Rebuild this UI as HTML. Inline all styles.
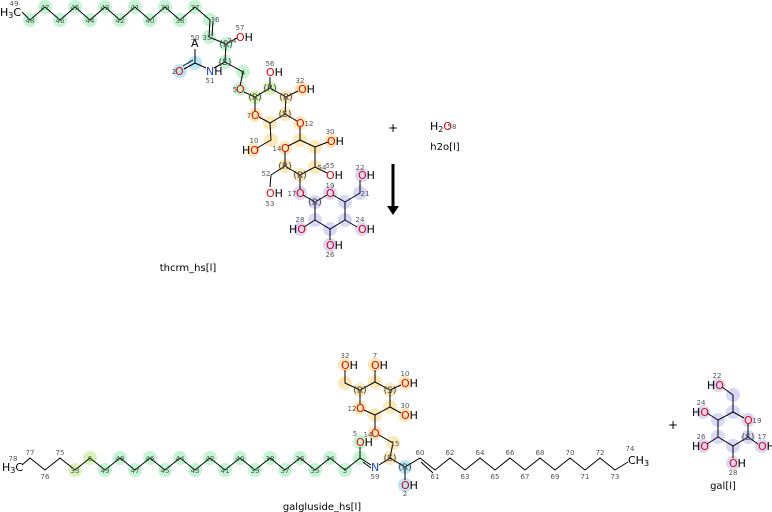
<!DOCTYPE html>
<html><head><meta charset="utf-8"><style>
html,body{margin:0;padding:0;background:#fff;}
svg{display:block;font-family:"DejaVu Sans","Liberation Sans",sans-serif;}
.n{font-size:7px;fill:#555;text-anchor:middle;}
.o{font-size:11px;fill:#e00;}
.k{font-size:11px;fill:#000;}
.s{font-size:9px;fill:#444;text-anchor:middle;}
.l{font-size:10px;fill:#000;text-anchor:middle;}
</style></head><body>
<svg width="772" height="512" viewBox="0 0 772 512" xmlns="http://www.w3.org/2000/svg">
<!-- highlight circles -->
<g fill="#c3f5d3">
<circle cx="30" cy="20" r="7"/><circle cx="45" cy="7" r="7"/><circle cx="60" cy="20" r="7"/><circle cx="75" cy="7" r="7"/><circle cx="90" cy="20" r="7"/><circle cx="105" cy="7" r="7"/><circle cx="120" cy="20" r="7"/><circle cx="135" cy="7" r="7"/><circle cx="150" cy="20" r="7"/><circle cx="165" cy="7" r="7"/><circle cx="180" cy="20" r="7"/><circle cx="195" cy="7" r="7"/><circle cx="210" cy="20" r="7"/><circle cx="209" cy="37" r="7"/><circle cx="226" cy="44" r="7"/><circle cx="225" cy="62" r="7"/><circle cx="243" cy="72" r="7"/><circle cx="240" cy="89" r="7"/>
<circle cx="105" cy="470" r="7"/><circle cx="120" cy="458" r="7"/><circle cx="135" cy="470" r="7"/><circle cx="150" cy="458" r="7"/><circle cx="165" cy="470" r="7"/><circle cx="180" cy="458" r="7"/><circle cx="195" cy="470" r="7"/><circle cx="210" cy="458" r="7"/><circle cx="225" cy="470" r="7"/><circle cx="240" cy="458" r="7"/><circle cx="255" cy="470" r="7"/><circle cx="270" cy="458" r="7"/><circle cx="285" cy="470" r="7"/><circle cx="300" cy="458" r="7"/><circle cx="315" cy="470" r="7"/><circle cx="330" cy="458" r="7"/><circle cx="345" cy="470" r="7"/><circle cx="360" cy="458" r="7"/><circle cx="360" cy="442" r="7"/>
</g>
<g fill="#d8f5b8"><circle cx="255" cy="97" r="7"/><circle cx="270" cy="88" r="7"/><circle cx="75" cy="470" r="7"/><circle cx="90" cy="458" r="7"/></g>
<g fill="#b8e6f8"><circle cx="180" cy="71" r="7"/><circle cx="195" cy="63" r="7"/><circle cx="405" cy="467" r="7"/><circle cx="405" cy="485" r="7"/></g>
<g fill="#fde9b8">
<circle cx="286" cy="97" r="7"/><circle cx="302" cy="89" r="7"/><circle cx="285" cy="114" r="7"/><circle cx="300" cy="123" r="7"/><circle cx="270" cy="123" r="7"/><circle cx="255" cy="115" r="7"/><circle cx="271" cy="140" r="7"/><circle cx="253" cy="150" r="7"/><circle cx="285" cy="148" r="7"/><circle cx="300" cy="140" r="7"/><circle cx="315" cy="147" r="7"/><circle cx="331" cy="141" r="7"/><circle cx="315" cy="167" r="7"/><circle cx="285" cy="166" r="7"/><circle cx="300" cy="175" r="7"/>
<circle cx="390" cy="458" r="7"/><circle cx="393" cy="443" r="7"/><circle cx="375" cy="433" r="7"/><circle cx="375" cy="415" r="7"/><circle cx="360" cy="408" r="7"/><circle cx="360" cy="390" r="7"/><circle cx="375" cy="382" r="7"/><circle cx="390" cy="390" r="7"/><circle cx="390" cy="407" r="7"/><circle cx="405" cy="415" r="7"/><circle cx="405" cy="383" r="7"/><circle cx="375" cy="365" r="7"/><circle cx="345" cy="383" r="7"/><circle cx="345" cy="365" r="7"/>
</g>
<g fill="#d8d8f8">
<circle cx="300" cy="193" r="7"/><circle cx="315" cy="202" r="7"/><circle cx="330" cy="193" r="7"/><circle cx="345" cy="202" r="7"/><circle cx="360" cy="193" r="7"/><circle cx="362" cy="175" r="7"/><circle cx="345" cy="220" r="7"/><circle cx="362" cy="229" r="7"/><circle cx="330" cy="229" r="7"/><circle cx="330" cy="245" r="7"/><circle cx="315" cy="220" r="7"/><circle cx="300" cy="229" r="7"/>
<circle cx="718" cy="385" r="7"/><circle cx="733" cy="395" r="7"/><circle cx="733" cy="412" r="7"/><circle cx="748" cy="420" r="7"/><circle cx="748" cy="437" r="7"/><circle cx="762" cy="446" r="7"/><circle cx="733" cy="446" r="7"/><circle cx="733" cy="463" r="7"/><circle cx="718" cy="437" r="7"/><circle cx="703" cy="446" r="7"/><circle cx="718" cy="420" r="7"/><circle cx="703" cy="412" r="7"/>
</g>
<!-- bonds -->
<g stroke="#000" stroke-width="1" fill="none">
<polyline points="22,12 30,20 45,7 60,20 75,7 90,20 105,7 120,20 135,7 150,20 165,7 180,20 195,7 210,20 209,37 226,44 225,62 243,72 240,86"/>
<line x1="213" y1="22" x2="212" y2="36"/>
<line x1="226" y1="44" x2="237" y2="38"/><line x1="225" y1="62" x2="214" y2="68"/><line x1="206" y1="68" x2="195" y2="63"/>
<line x1="195" y1="63" x2="195" y2="49"/><line x1="195" y1="63" x2="184" y2="69"/><line x1="193" y1="60" x2="183" y2="66"/>
<polyline points="244,92 255,97 270,88 286,97 285,114 270,123 259,117"/><line x1="255" y1="97" x2="255" y2="111"/>
<line x1="270" y1="88" x2="270" y2="77"/><line x1="286" y1="97" x2="298" y2="91"/><line x1="285" y1="114" x2="297" y2="121"/>
<polyline points="270,123 271,140 257,148"/>
<polyline points="300,127 300,140 315,147 315,167 300,175 285,166 285,152"/><line x1="288" y1="146" x2="300" y2="140"/>
<line x1="315" y1="147" x2="328" y2="142"/><line x1="315" y1="167" x2="327" y2="173"/>
<polyline points="285,166 271,175 270,187"/><line x1="300" y1="175" x2="300" y2="189"/><line x1="303" y1="195" x2="315" y2="202"/>
<polyline points="315,202 327,195"/><polyline points="333,195 345,202 345,220 330,229 315,220 315,202"/>
<polyline points="345,202 360,193 360,180"/><line x1="345" y1="220" x2="357" y2="227"/><line x1="330" y1="229" x2="330" y2="240"/><line x1="315" y1="220" x2="304" y2="227"/>
<!-- bottom -->
<polyline points="22,465 30,458 45,470 60,458 75,470 90,458 105,470 120,458 135,470 150,458 165,470 180,458 195,470 210,458 225,470 240,458 255,470 270,458 285,470 300,458 315,470 330,458 345,470 360,458 371,465"/>
<line x1="360" y1="458" x2="360" y2="447"/><line x1="363" y1="462" x2="371" y2="468"/>
<polyline points="379,465 390,458 405,467 420,458 435,470 450,458 465,470 480,458 495,470 510,458 525,470 540,458 555,470 570,458 585,470 600,458 615,470 628,462"/>
<line x1="421" y1="462" x2="433" y2="473"/>
<polyline points="390,458 393,443 379,435"/><line x1="375" y1="429" x2="375" y2="415"/>
<polyline points="375,415 364,410"/><polyline points="360,404 360,390 375,382 390,390 390,407 375,415"/>
<line x1="390" y1="407" x2="401" y2="413"/><line x1="390" y1="390" x2="401" y2="385"/><line x1="375" y1="382" x2="375" y2="370"/><polyline points="360,390 345,383 345,370"/>
<line x1="405" y1="467" x2="405" y2="480"/>
<!-- gal -->
<polyline points="733,412 744,418"/><polyline points="748,424 748,437 733,446 718,437 718,420 733,412"/>
<polyline points="733,412 733,395 722,387"/><line x1="718" y1="420" x2="707" y2="413"/><line x1="718" y1="437" x2="707" y2="444"/><line x1="733" y1="446" x2="733" y2="458"/><line x1="748" y1="437" x2="758" y2="444"/>
</g>
<!-- arrow -->
<line x1="393" y1="164" x2="393" y2="207" stroke="#000" stroke-width="3"/>
<polygon points="387,206 399,206 393,215" fill="#000"/>
<!-- atom labels -->
<g class="k">
<text x="0" y="16">H<tspan font-size="8" dy="2">3</tspan><tspan dy="-2">C</tspan></text>
<text x="2" y="471">H<tspan font-size="8" dy="2">3</tspan><tspan dy="-2">C</tspan></text>
<text x="628" y="464">CH<tspan font-size="8" dy="2">3</tspan></text>
<text x="191" y="47">A</text>
<text x="430" y="130">H<tspan font-size="8" dy="2">2</tspan><tspan dy="-2" fill="#e00">O</tspan></text>
<text x="388" y="132" font-size="12">+</text>
<text x="668" y="429" font-size="12">+</text>
</g>
<text x="206" y="75" font-size="11" fill="#2244ee">N<tspan fill="#000">H</tspan></text>
<text x="371" y="471" font-size="11" fill="#2244ee">N</text>
<g font-size="11">
<text x="236" y="41" fill="#e00">O<tspan fill="#000">H</tspan></text>
<text x="175" y="75" fill="#e00">O</text>
<text x="236" y="93" fill="#e00">O</text>
<text x="266" y="76" fill="#e00">O<tspan fill="#000">H</tspan></text>
<text x="298" y="93" fill="#e00">O<tspan fill="#000">H</tspan></text>
<text x="296" y="127" fill="#e00">O</text>
<text x="251" y="119" fill="#e00">O</text>
<text x="242" y="154"><tspan>H</tspan><tspan fill="#e00">O</tspan></text>
<text x="281" y="152" fill="#e00">O</text>
<text x="327" y="145" fill="#e00">O<tspan fill="#000">H</tspan></text>
<text x="326" y="179" fill="#e00">O<tspan fill="#000">H</tspan></text>
<text x="266" y="197" fill="#e00">O<tspan fill="#000">H</tspan></text>
<text x="296" y="197" fill="#e00">O</text>
<text x="326" y="197" fill="#e00">O</text>
<text x="358" y="179" fill="#e00">O<tspan fill="#000">H</tspan></text>
<text x="358" y="233" fill="#e00">O<tspan fill="#000">H</tspan></text>
<text x="326" y="249" fill="#e00">O<tspan fill="#000">H</tspan></text>
<text x="289" y="233"><tspan>H</tspan><tspan fill="#e00">O</tspan></text>
<text x="356" y="446" fill="#e00">O<tspan fill="#000">H</tspan></text>
<text x="371" y="437" fill="#e00">O</text>
<text x="356" y="412" fill="#e00">O</text>
<text x="401" y="419" fill="#e00">O<tspan fill="#000">H</tspan></text>
<text x="401" y="387" fill="#e00">O<tspan fill="#000">H</tspan></text>
<text x="371" y="369" fill="#e00">O<tspan fill="#000">H</tspan></text>
<text x="341" y="369" fill="#e00">O<tspan fill="#000">H</tspan></text>
<text x="401" y="489" fill="#e00">O<tspan fill="#000">H</tspan></text>
<text x="707" y="389"><tspan>H</tspan><tspan fill="#e00">O</tspan></text>
<text x="744" y="424" fill="#e00">O</text>
<text x="758" y="450" fill="#e00">O<tspan fill="#000">H</tspan></text>
<text x="729" y="467" fill="#e00">O<tspan fill="#000">H</tspan></text>
<text x="692" y="450"><tspan>H</tspan><tspan fill="#e00">O</tspan></text>
<text x="692" y="416"><tspan>H</tspan><tspan fill="#e00">O</tspan></text>
</g>
<!-- stereo labels -->
<g class="s">
<text x="226" y="47">(R)</text><text x="225" y="65">(S)</text><text x="255" y="100">(R)</text><text x="270" y="91">(R)</text><text x="286" y="100">(R)</text><text x="285" y="117">(S)</text><text x="285" y="169">(R)</text><text x="300" y="178">(R)</text><text x="315" y="205">(R)</text>
<text x="390" y="461">(S)</text><text x="405" y="470">(R)</text><text x="360" y="393">(R)</text><text x="390" y="393">(S)</text><text x="748" y="440">(S)</text>
</g>
<!-- numbers -->
<g class="n">
<text x="14" y="6">49</text><text x="45" y="10">47</text><text x="30" y="23">48</text><text x="75" y="10">45</text><text x="60" y="23">46</text><text x="105" y="10">43</text><text x="90" y="23">44</text><text x="135" y="10">41</text><text x="120" y="23">42</text><text x="165" y="10">39</text><text x="150" y="23">40</text><text x="195" y="10">37</text><text x="180" y="23">38</text><text x="215" y="22">36</text><text x="207" y="40">35</text><text x="232" y="43">34</text><text x="240" y="30">57</text><text x="195" y="40">50</text><text x="174" y="74">2</text><text x="210" y="83">51</text><text x="243" y="75">4</text><text x="235" y="92">5</text><text x="270" y="66">56</text><text x="300" y="83">32</text><text x="309" y="126">12</text><text x="249" y="118">7</text><text x="254" y="143">10</text><text x="277" y="151">14</text><text x="330" y="134">30</text><text x="322" y="170">54</text><text x="330" y="168">55</text><text x="266" y="176">52</text><text x="270" y="206">53</text><text x="292" y="196">17</text><text x="330" y="188">19</text><text x="360" y="170">22</text><text x="365" y="196">21</text><text x="360" y="222">24</text><text x="330" y="257">26</text><text x="300" y="222">28</text><text x="452" y="129">58</text>
<text x="13" y="461">78</text><text x="30" y="455">77</text><text x="45" y="479">76</text><text x="60" y="455">75</text><text x="75" y="473">33</text><text x="90" y="461">6</text><text x="105" y="473">49</text><text x="120" y="461">48</text><text x="135" y="473">47</text><text x="150" y="461">46</text><text x="165" y="473">45</text><text x="180" y="461">44</text><text x="195" y="473">43</text><text x="210" y="461">42</text><text x="225" y="473">41</text><text x="240" y="461">40</text><text x="255" y="473">39</text><text x="270" y="461">38</text><text x="285" y="473">37</text><text x="300" y="461">36</text><text x="315" y="473">35</text><text x="330" y="461">34</text><text x="345" y="473">3</text><text x="355" y="436">5</text><text x="375" y="479">59</text><text x="395" y="446">15</text><text x="368" y="437">14</text><text x="352" y="411">12</text><text x="345" y="358">32</text><text x="375" y="358">7</text><text x="405" y="376">10</text><text x="405" y="408">30</text><text x="405" y="496">2</text><text x="420" y="455">60</text><text x="435" y="479">61</text><text x="450" y="455">62</text><text x="465" y="479">63</text><text x="480" y="455">64</text><text x="495" y="479">65</text><text x="510" y="455">66</text><text x="525" y="479">67</text><text x="540" y="455">68</text><text x="555" y="479">69</text><text x="570" y="455">70</text><text x="585" y="479">71</text><text x="600" y="455">72</text><text x="615" y="479">73</text><text x="630" y="451">74</text>
<text x="717" y="378">22</text><text x="701" y="405">24</text><text x="701" y="439">26</text><text x="733" y="475">28</text><text x="762" y="439">17</text><text x="757" y="423">19</text>
</g>
<!-- names -->
<text class="l" x="188" y="271">thcrm_hs[l]</text>
<text class="l" x="445" y="150">h2o[l]</text>
<text class="l" x="322" y="510">galgluside_hs[l]</text>
<text class="l" x="723" y="489">gal[l]</text>
</svg>
</body></html>
